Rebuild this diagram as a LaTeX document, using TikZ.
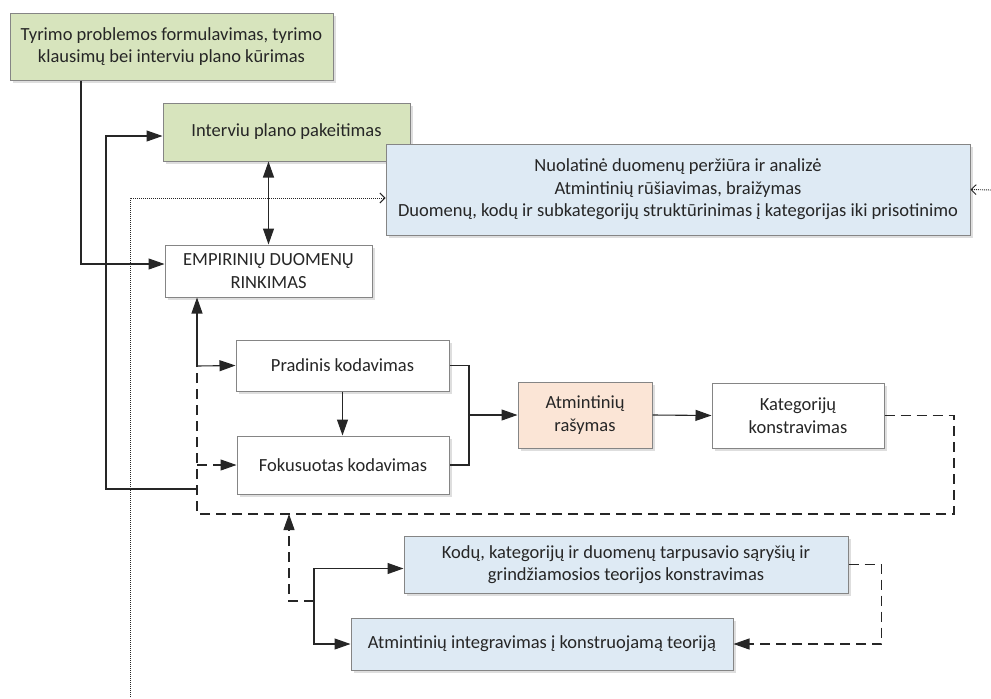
\documentclass[tikz,border=0pt]{standalone}
\usepackage{fontspec}
\setmainfont{Carlito}
\usetikzlibrary{arrows.meta,shadows}
\definecolor{boxgreen}{HTML}{D7E4BD}
\definecolor{boxblue}{HTML}{DEEAF4}
\definecolor{boxpeach}{HTML}{FBE5D6}
\definecolor{linegray}{HTML}{262626}
\definecolor{framegray}{HTML}{858585}

\begin{document}
\begin{tikzpicture}[x=1pt,y=-1pt,line width=1.1pt,>={Triangle[length=16pt,width=11pt]},
    box/.style={draw=framegray,line width=1pt,fill=white,align=center,text=linegray,inner sep=0pt,
      font=\fontsize{18.5}{22.5}\selectfont,
      drop shadow={shadow xshift=2.5pt,shadow yshift=-2.5pt,fill=black!13,opacity=1}},
    flow/.style={draw=linegray},
    dashline/.style={draw=linegray,dash pattern=on 10pt off 6pt},
    dotline/.style={draw=linegray,line width=0.9pt,dash pattern=on 1pt off 1pt,-{Straight Barb[length=5pt,width=10pt,line width=0.9pt]}}]
    \useasboundingbox (0,0) rectangle (991,699);
    \node [box,fill=boxgreen,minimum width=323,minimum height=67] (T) at (171.5,46.5) {Tyrimo problemos formulavimas, tyrimo\\klausimų bei interviu plano kūrimas};
    \node [box,fill=boxgreen,minimum width=247,minimum height=58] (P) at (286.5,132) {Interviu plano pakeitimas};
    \node [box,fill=boxblue,minimum width=584,minimum height=91] (N) at (678,189.5) {Nuolatinė duomenų peržiūra ir analizė\\Atmintinių rūšiavimas, braižymas\\Duomenų, kodų ir subkategorijų struktūrinimas į kategorijas iki prisotinimo};
    \node [box,minimum width=207,minimum height=52] (R) at (268.5,271) {EMPIRINIŲ DUOMENŲ\\RINKIMAS};
    \node [box,minimum width=213,minimum height=51] (K1) at (342.5,365.5) {Pradinis kodavimas};
    \node [box,minimum width=212,minimum height=58] (K2) at (343,465) {Fokusuotas kodavimas};
    \node [box,fill=boxpeach,minimum width=134,minimum height=66] (M) at (585,415) {Atmintinių\\rašymas};
    \node [box,minimum width=172,minimum height=65] (KK) at (798,415.5) {Kategorijų\\konstravimas};
    \node [box,fill=boxblue,minimum width=444,minimum height=57] (S) at (626,564.5) {Kodų, kategorijų ir duomenų tarpusavio sąryšių ir\\grindžiamosios teorijos konstravimas};
    \node [box,fill=boxblue,minimum width=382,minimum height=52] (I) at (542,644) {Atmintinių integravimas į konstruojamą teoriją};
    \coordinate (LA) at (81,0);
    \coordinate (LB) at (106,0);
    \coordinate (J1) at (197,489);
    \coordinate (J2) at (197,366);
    \coordinate (J3) at (314,601);
    \coordinate (J4) at (469,415);
    \coordinate (Rc) at (954,514);
    \coordinate (Up) at (289,514);
    \coordinate (D1) at (130,697);
    \coordinate (D2) at (991,190);
    \draw [flow,->] (T.south -| LA) |- ([yshift=7pt]R.west);
    \draw [flow,->] (J1) -- (J1 -| LB) |- ([yshift=-4pt]P.west);
    \draw [flow,<->] (P.south -| R.north) -- (R.north);
    \draw [dotline] (D1) |- ([yshift=-8.5pt]N.west);
    \draw [dotline] (D2) -- (N.east);
    \draw [flow,->] (J2) -- (J2 |- R.south);
    \draw [flow,->] (J2) -- (K1.west);
    \draw [flow,->] (K1.south) -- (K1.south |- K2.north);
    \draw [dashline] (KK.east) -| (Rc) -| (J2);
    \draw [dashline,->] (K2.west -| J2) -- (K2.west);
    \draw [flow] (K1.east) -| (J4) |- (K2.east);
    \draw [flow,->] (J4) -- (M.west);
    \draw [flow,->] (M.east) -- (KK.west);
    \draw [dashline,->] (J3) -| (Up);
    \draw [flow,->] (J3) |- ([yshift=-4pt]S.west);
    \draw [flow,->] (J3) |- (I.west);
    \draw [dashline,->] (S.east) -- ++(33,0) |- (I.east);
\end{tikzpicture}
\end{document}
